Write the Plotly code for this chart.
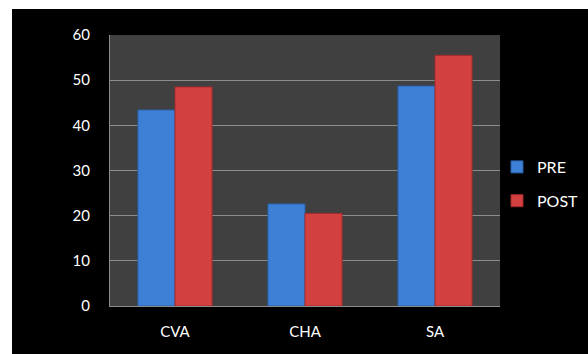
import plotly.graph_objects as go

categories = ["CVA", "CHA", "SA"]
pre_values = [43.4, 22.6, 48.7]
post_values = [48.5, 20.5, 55.5]
y_ticks = [0, 10, 20, 30, 40, 50, 60]

W, H = 588, 354
L, R, T, B = 110, 88, 35, 48

fig = go.Figure()
fig.add_trace(go.Bar(x=categories, y=pre_values, name="PRE", legendgroup="a",
                     marker=dict(color="#3d80d6", line=dict(color="#2a5fa8", width=1))))
fig.add_trace(go.Bar(x=categories, y=post_values, name="POST", legendgroup="b",
                     marker=dict(color="#d24040", line=dict(color="#a22a2a", width=1))))

pw = W - L - R
ph = H - T - B
def px2paper_x(px):
    return (px - L) / pw
def px2paper_y(py):
    return (H - B - py) / ph

shapes = [
    dict(type="rect", xref="paper", yref="paper", layer="below",
         x0=px2paper_x(0), x1=px2paper_x(W), y0=px2paper_y(0), y1=px2paper_y(9),
         fillcolor="white", line=dict(width=0)),
    dict(type="rect", xref="paper", yref="paper", layer="below",
         x0=px2paper_x(0), x1=px2paper_x(12), y0=px2paper_y(0), y1=px2paper_y(H),
         fillcolor="white", line=dict(width=0)),
]

fig.update_layout(
    width=W, height=H,
    margin=dict(l=L, r=R, t=T, b=B, pad=0, autoexpand=False),
    paper_bgcolor="black",
    plot_bgcolor="#404040",
    barmode="group",
    bargap=0.43,
    bargroupgap=0,
    font=dict(family="Lato, Open Sans, sans-serif", color="white", size=15),
    showlegend=True,
    legend=dict(xref="container", yref="container", x=497 / W, y=1 - 184 / H,
                xanchor="left", yanchor="middle",
                font=dict(size=16, color="white"), bgcolor="rgba(0,0,0,0)",
                tracegroupgap=10, itemwidth=30),
    shapes=shapes,
    xaxis=dict(showgrid=False, showline=True, linecolor="#8c8c8c", linewidth=1,
               ticks="outside", ticklen=12, tickcolor="black", automargin=False,
               tickfont=dict(size=15, color="white")),
    yaxis=dict(range=[0, 60], tickvals=y_ticks, showgrid=True, gridcolor="#8c8c8c",
               gridwidth=1, showline=True, linecolor="#8c8c8c", linewidth=1,
               ticks="outside", ticklen=16, tickcolor="black", zeroline=False,
               automargin=False, tickfont=dict(size=15, color="white")),
)

fig.write_html("out.html")
